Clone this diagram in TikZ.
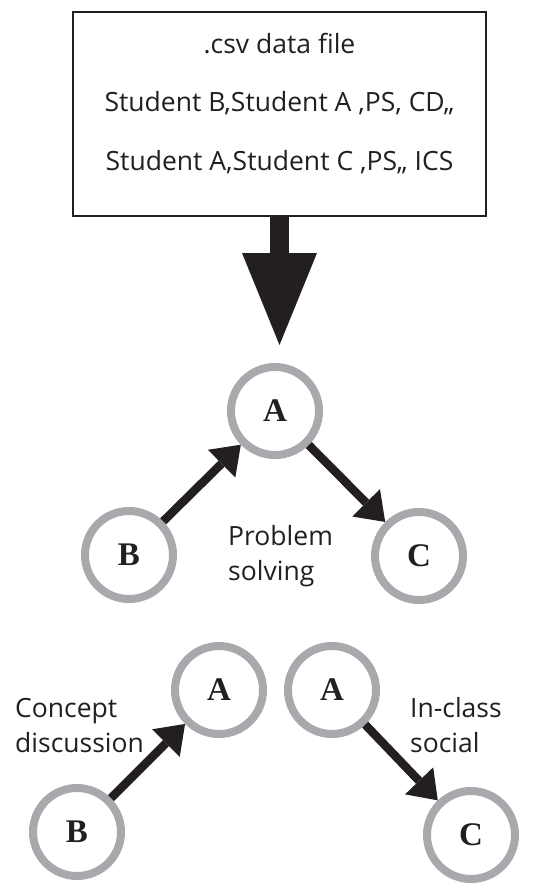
\documentclass[tikz,border=0pt]{standalone}
\usepackage{fontspec}
\setmainfont{Open Sans}
\newfontfamily\letterfont{Liberation Serif}
\usetikzlibrary{positioning}
\usetikzlibrary{arrows.meta}

\definecolor{ringgray}{RGB}{167,169,172}
\definecolor{inkblack}{RGB}{35,31,32}

\begin{document}
\begin{tikzpicture}[x=1pt, y=-1pt,
	student/.style={draw=ringgray, circle, line width=8pt, minimum size=88pt, inner sep=0pt,
		font=\letterfont\bfseries\fontsize{33}{33}\selectfont, text=inkblack},
	tie/.style={draw=inkblack, line width=8.5pt, -{Triangle[length=27pt, width=39pt, line width=0pt]}},
	feed/.style={draw=inkblack, line width=19pt, -{Triangle[length=92pt, width=75pt, line width=0pt]}},
	databox/.style={draw=inkblack, line width=2pt, minimum width=413pt, minimum height=204pt},
	rowtext/.style={align=center, inner sep=0pt, text=inkblack, font=\fontsize{26.5}{58.5}\selectfont},
	tietext/.style={align=left, inner sep=0pt, text=inkblack, font=\fontsize{26.5}{35}\selectfont}]
		\useasboundingbox (0,0) rectangle (539,884);
		\node (csv) [databox] at (279.5,114) {};
		\node (rows) [rowtext, anchor=base] at (279.5,170) {.csv data file\\Student B,Student A ,PS, CD,,\\Student A,Student C ,PS,, ICS};
		\coordinate (tip) at (279.5,345);
		\draw[feed] (csv) -- (tip);
		% problem solving
		\node (psA) [student] at (275,411) {A};
		\node (psB) [student] at (129,555) {B};
		\node (psC) [student] at (419,556) {C};
		\node (psT) [tietext, anchor=base west] at (228,580) {Problem\\solving};
		\draw[tie] (psB) -- (psA);
		\draw[tie] (psA) -- (psC);
		% concept discussion
		\node (cdA) [student] at (219,690) {A};
		\node (cdB) [student] at (77,832) {B};
		\node (cdT) [tietext, anchor=base west] at (15,752) {Concept\\discussion};
		\draw[tie] (cdB) -- (cdA);
		% in-class social
		\node (icA) [student] at (332,690) {A};
		\node (icC) [student] at (471,835) {C};
		\node (icT) [tietext, anchor=base west] at (410,752) {In-class\\social};
		\draw[tie] (icA) -- (icC);
\end{tikzpicture}
\end{document}
